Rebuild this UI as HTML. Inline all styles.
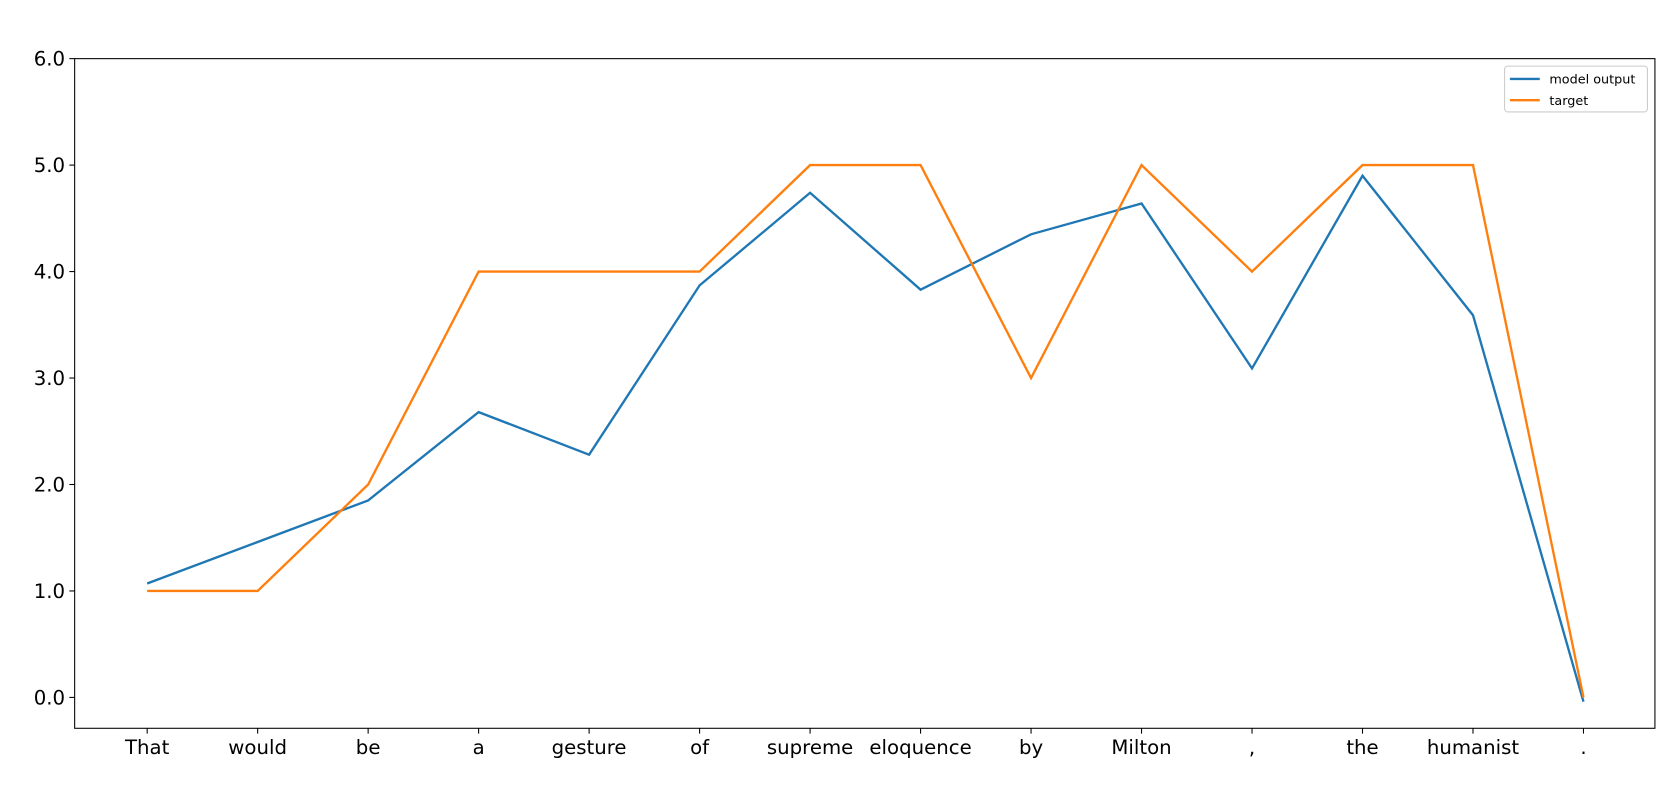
<!DOCTYPE html>
<html><head><meta charset="utf-8"><style>
body{margin:0;background:#fff}
svg{display:block;font-family:"DejaVu Sans","Liberation Sans",sans-serif}
</style></head><body>
<svg id="chart" width="1672" height="788" viewBox="0 0 1568 739">
</svg>
<script>
const categories=["That","would","be","a","gesture","of","supreme","eloquence","by","Milton",",","the","humanist","."];
const modelOutput=[1.07,1.46,1.85,2.68,2.28,3.87,4.74,3.83,4.35,4.64,3.09,4.90,3.59,-0.04];
const target=[1,1,2,4,4,4,5,5,3,5,4,5,5,0];
const yTicks=[0,1,2,3,4,5,6];
const yTickLabels=["0.0","1.0","2.0","3.0","4.0","5.0","6.0"];
const seriesNames=["model output","target"];

const NS="http://www.w3.org/2000/svg";
const svg=document.getElementById("chart");
const L=70,R=1552,T=55,B=683;
const yMin=-0.29,yMax=6.0;
function y(v){return B-(v-yMin)/(yMax-yMin)*(B-T);}
function x(i){return 138+i*(1485-138)/(categories.length-1);}
function el(tag,attrs){const e=document.createElementNS(NS,tag);for(const k in attrs)e.setAttribute(k,attrs[k]);svg.appendChild(e);return e;}

const frame=el("rect",{x:L,y:T,width:R-L,height:B-T,fill:"none",stroke:"#000","stroke-width":1});



yTicks.forEach((v,i)=>{
  const t=el("line",{x1:L-5,x2:L,y1:y(v),y2:y(v),stroke:"#000"});
  
  
  const lb=el("text",{x:L-9,y:y(v)+6.5,"text-anchor":"end","font-size":18.5,fill:"#000"});
  lb.textContent=yTickLabels[i];
  
  
});
categories.forEach((c,i)=>{
  const t=el("line",{x1:x(i),x2:x(i),y1:B,y2:B+5,stroke:"#000"});
  
  
  const lb=el("text",{x:x(i),y:B+24,"text-anchor":"middle","font-size":18.5,fill:"#000"});
  lb.textContent=c;
  
  
});
function line(vals,color,name){
  const p=el("polyline",{points:vals.map((v,i)=>x(i)+","+y(v)).join(" "),fill:"none",stroke:color,"stroke-width":2.2});
  
  
}
line(modelOutput,"#1f77b4","model-output-line");
line(target,"#ff7f0e","target-line");

const lg=el("rect",{x:1411,y:62,width:134,height:43,fill:"#fff",stroke:"#ccc",rx:3});


[["#1f77b4",0],["#ff7f0e",1]].forEach(([c,i])=>{
  const yy=74+i*20;
  const s=el("line",{x1:1416,x2:1444,y1:yy,y2:yy,stroke:c,"stroke-width":2.2});
  
  
  const t=el("text",{x:1453,y:yy+4.5,"font-size":12,fill:"#000"});
  t.textContent=seriesNames[i];
  
  
});
</script>
</body></html>
